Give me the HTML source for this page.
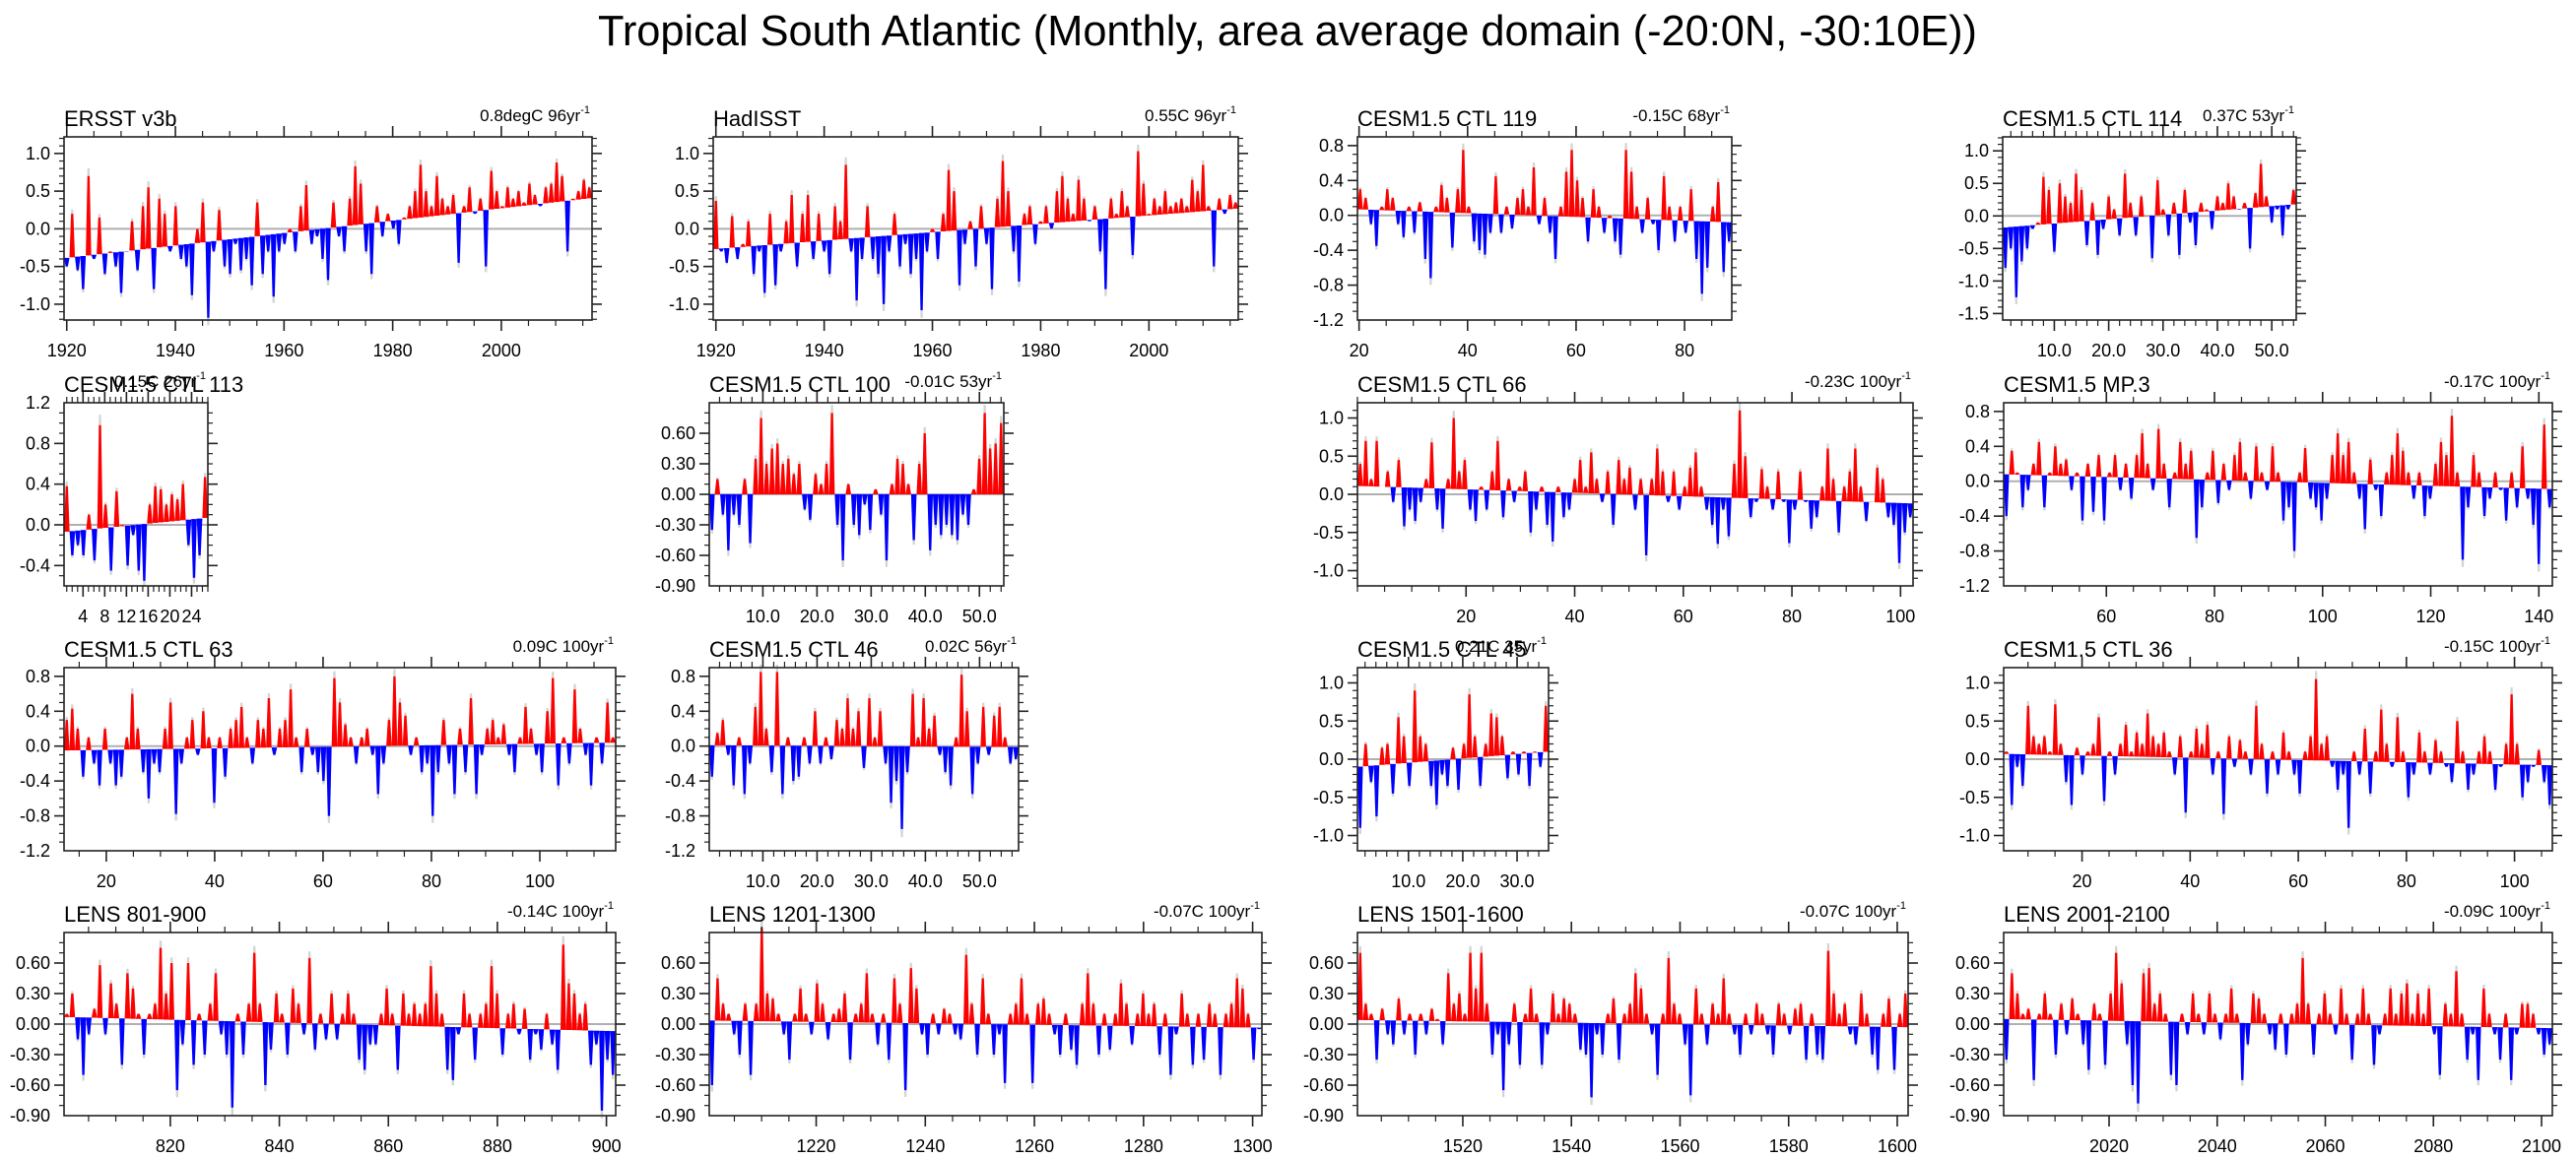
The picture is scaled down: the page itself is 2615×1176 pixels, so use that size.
<!DOCTYPE html>
<html><head><meta charset="utf-8">
<style>
html,body{margin:0;padding:0;background:#fff;}
svg{display:block;font-family:"Liberation Sans",Arial,sans-serif;}
</style></head>
<body>
<svg id="fig" width="2615" height="1176" viewBox="0 0 2615 1176" xmlns="http://www.w3.org/2000/svg">
<text x="1307" y="46" text-anchor="middle" font-size="44" textLength="1400" lengthAdjust="spacingAndGlyphs">Tropical South Atlantic (Monthly, area average domain (-20:0N, -30:10E))</text>
</svg>
<script>
// ---- data (approximate annual anomalies) ----
const ersstVals=[-0.5,0.2,-0.55,-0.8,0.7,-0.4,0.15,-0.6,-0.3,-0.5,-0.85,-0.3,0.1,-0.55,0.3,0.55,-0.8,0.4,0.2,-0.3,0.3,-0.4,-0.5,-0.88,0.0,0.35,-1.18,-0.3,0.25,-0.5,-0.6,-0.2,-0.55,-0.4,-0.75,0.35,-0.6,-0.3,-0.9,-0.3,-0.2,0.0,-0.3,0.3,0.58,-0.2,-0.1,-0.4,-0.68,0.35,-0.1,-0.3,0.4,0.83,0.6,-0.3,-0.6,0.3,-0.1,0.2,0.0,-0.2,0.15,0.3,0.5,0.85,0.5,0.3,0.7,0.4,0.3,0.45,-0.45,0.3,0.55,0.2,0.4,-0.5,0.77,0.5,0.3,0.55,0.4,0.5,0.35,0.6,0.45,0.3,0.55,0.6,0.88,0.7,-0.3,0.4,0.5,0.65,0.55];
const hadVals=[0.37,-0.3,-0.45,0.17,-0.4,-0.2,0.1,-0.6,-0.3,-0.85,0.2,-0.75,-0.3,0.1,0.45,-0.5,0.2,0.45,-0.4,0.2,-0.3,-0.6,0.3,0.1,0.85,-0.3,-0.95,-0.4,0.3,-0.4,-0.6,-1.0,-0.3,0.2,-0.5,-0.2,-0.6,-0.4,-1.08,-0.3,0.0,-0.4,0.2,0.78,0.5,-0.75,-0.2,0.1,-0.5,0.3,-0.2,-0.8,0.4,0.9,0.5,-0.3,-0.7,0.2,0.3,-0.2,0.1,0.3,0.0,0.5,0.7,0.4,0.2,0.65,0.4,0.1,0.3,-0.3,-0.8,0.4,0.2,0.5,0.3,-0.35,1.03,0.6,0.2,0.4,0.3,0.5,0.3,0.35,0.4,0.3,0.65,0.5,0.85,0.3,-0.5,0.4,0.2,0.45,0.35];
const ctl119Vals=[0.3,0.2,-0.1,-0.35,0.1,0.3,0.2,-0.1,-0.25,0.1,-0.2,0.15,-0.5,-0.72,0.1,0.35,0.2,-0.37,0.3,0.75,0.1,-0.3,-0.4,-0.45,-0.2,0.45,-0.2,0.1,-0.15,0.2,0.3,0.1,0.55,-0.1,0.2,-0.2,-0.5,0.1,0.5,0.75,0.4,0.2,-0.3,0.3,0.1,-0.2,0.0,-0.3,-0.45,0.75,0.5,0.1,-0.2,0.2,-0.1,-0.4,0.45,0.1,-0.3,0.1,-0.2,0.3,-0.5,-0.9,-0.6,0.1,0.38,-0.65,-0.3];
const ctl114Vals=[-0.8,-0.5,-1.25,-0.7,-0.5,-0.2,-0.1,0.6,0.4,-0.55,0.5,0.3,0.2,0.65,0.4,-0.45,0.2,-0.6,-0.2,0.3,0.1,-0.3,0.65,0.2,-0.3,0.3,0.0,-0.65,0.55,0.1,-0.3,0.2,-0.6,0.4,-0.1,-0.45,0.2,0.1,-0.2,0.3,0.2,0.5,0.3,0.1,0.2,-0.5,0.35,0.8,0.3,-0.1,0.1,-0.3,0.1,0.4];
const ctl113Vals=[0.38,-0.3,-0.2,-0.3,0.1,-0.35,0.98,0.2,-0.45,0.33,0.0,-0.4,-0.1,-0.45,-0.55,0.2,0.38,0.35,0.2,0.3,0.25,0.4,-0.2,-0.52,-0.3,0.47];
const ctl100Vals=[-0.35,0.15,-0.2,-0.55,-0.2,-0.3,0.15,-0.48,0.35,0.75,0.3,0.45,0.5,0.3,0.35,0.2,0.3,-0.15,-0.25,0.2,0.1,0.3,0.8,-0.3,-0.65,0.1,-0.3,-0.4,-0.1,-0.35,0.05,-0.2,-0.65,0.1,0.35,0.3,0.1,-0.45,0.3,0.6,-0.55,-0.3,-0.4,-0.3,-0.4,-0.45,-0.2,-0.3,0.05,0.35,0.8,0.45,0.5,0.7];
const ctl66Vals=[0.4,0.7,0.2,0.7,0.1,0.3,-0.1,0.45,-0.42,-0.2,-0.35,-0.1,0.2,0.68,-0.2,-0.45,0.2,1.0,0.3,0.45,-0.2,-0.35,0.1,-0.2,0.3,0.7,-0.3,0.2,-0.1,0.1,0.3,-0.5,-0.2,0.1,-0.4,-0.62,0.1,-0.3,-0.2,0.2,0.45,0.1,0.55,0.2,-0.1,0.3,-0.4,0.45,0.2,0.35,-0.2,0.2,-0.8,0.2,0.6,0.3,-0.1,0.3,-0.2,0.1,0.35,0.55,0.1,-0.2,-0.4,-0.65,-0.2,-0.55,0.4,1.1,0.5,-0.3,-0.1,0.33,0.1,-0.2,0.3,-0.1,-0.64,-0.2,0.3,-0.1,-0.45,-0.3,0.1,0.6,0.2,-0.5,0.1,0.3,0.6,0.1,-0.35,-0.1,0.35,0.2,-0.3,-0.4,-0.9,-0.5,-0.3];
const mp3Vals=[-0.4,0.35,0.1,-0.3,-0.1,0.2,0.45,-0.3,0.1,0.4,0.2,0.25,-0.1,0.1,-0.45,0.2,-0.35,0.3,-0.45,0.1,0.3,-0.1,0.2,-0.2,0.3,0.55,0.2,-0.1,0.6,0.2,-0.3,0.1,0.45,0.2,0.35,-0.65,-0.3,0.1,0.35,-0.25,0.2,-0.1,0.3,0.45,0.1,-0.2,0.4,0.1,-0.1,0.4,0.1,-0.45,-0.3,-0.8,0.1,0.38,-0.2,-0.3,-0.45,-0.2,0.3,0.55,0.3,0.45,0.1,-0.2,-0.55,0.25,-0.1,-0.4,0.1,0.3,0.55,0.35,0.1,-0.2,0.1,-0.4,-0.2,0.2,0.45,0.3,0.75,0.1,-0.9,-0.3,0.3,0.1,-0.4,-0.2,0.1,-0.1,-0.45,0.1,-0.3,0.4,-0.2,-0.5,-0.95,0.65,-0.3];
const ctl63Vals=[0.3,0.43,0.2,-0.35,0.1,-0.2,-0.45,0.2,-0.2,-0.45,-0.35,0.1,0.6,0.2,-0.3,-0.6,-0.2,-0.3,0.2,0.5,-0.78,-0.2,0.1,0.3,-0.1,0.4,0.1,-0.65,0.1,-0.35,0.2,0.3,0.45,0.1,-0.2,0.3,0.2,0.55,-0.1,0.2,0.3,0.65,0.1,-0.3,0.2,-0.1,-0.3,-0.4,-0.8,0.78,0.5,0.25,0.1,-0.2,0.1,0.2,-0.1,-0.55,-0.2,0.3,0.8,0.5,0.35,-0.1,0.1,-0.3,-0.2,-0.8,-0.3,0.3,-0.2,-0.55,0.2,-0.3,0.55,-0.55,-0.1,0.2,0.3,0.1,0.25,-0.1,-0.3,0.1,0.45,0.2,-0.1,-0.3,0.4,0.78,-0.45,0.1,-0.2,0.65,0.2,-0.1,-0.45,0.1,-0.2,0.5,0.1];
const ctl46Vals=[-0.35,0.15,0.3,-0.1,-0.45,0.1,-0.55,-0.2,0.45,0.85,0.2,-0.3,0.85,-0.55,0.1,-0.4,-0.35,0.1,-0.2,0.4,-0.2,0.1,-0.15,0.3,0.2,0.55,0.2,0.4,-0.25,0.55,0.1,0.4,-0.2,-0.65,-0.4,-0.95,-0.3,0.6,0.1,0.55,0.2,0.35,-0.1,-0.3,-0.45,0.1,0.82,0.4,-0.55,-0.2,0.45,-0.1,0.35,0.45,0.1,-0.2,-0.15];
const ctl45Vals=[-0.9,0.2,-0.3,-0.75,0.15,0.2,-0.45,0.55,0.3,-0.35,0.9,0.3,0.2,-0.35,-0.6,-0.2,-0.35,0.15,-0.4,0.2,0.85,0.3,-0.35,0.2,0.6,0.55,0.3,-0.25,0.1,-0.2,0.1,-0.35,0.1,-0.1,0.7];
const ctl36Vals=[0.1,-0.6,-0.1,-0.35,0.7,0.3,0.2,0.3,0.1,0.72,0.2,-0.3,-0.6,0.15,-0.2,0.1,0.2,0.55,-0.55,0.1,-0.2,0.2,0.45,0.1,0.35,0.2,0.6,0.3,0.2,0.35,0.1,-0.2,0.3,-0.7,0.1,0.4,0.2,0.45,-0.2,0.1,-0.72,0.3,-0.1,0.25,0.1,-0.2,0.7,0.2,-0.45,0.1,-0.2,0.35,0.1,-0.2,-0.45,0.1,0.3,1.05,0.2,0.3,-0.1,-0.4,-0.2,-0.9,0.1,-0.2,0.4,-0.45,0.1,0.65,0.2,-0.1,0.55,0.1,-0.5,-0.2,0.35,0.1,-0.2,0.25,0.1,-0.1,-0.3,0.5,0.1,-0.4,-0.2,0.1,0.3,0.1,-0.4,-0.1,0.2,0.85,0.2,-0.5,-0.3,-0.1,0.12,-0.3,-0.6];
const lens801Vals=[0.1,0.3,-0.15,-0.5,-0.1,0.15,0.58,-0.1,0.4,0.2,-0.4,0.5,0.35,0.1,-0.3,0.1,0.2,0.75,0.3,0.6,-0.65,-0.2,0.6,-0.4,0.1,-0.3,0.2,0.5,-0.1,-0.3,-0.82,0.1,-0.3,0.2,0.7,0.2,-0.6,-0.25,0.3,0.1,-0.3,0.35,0.2,-0.1,0.65,-0.25,0.1,-0.15,0.3,-0.15,0.1,0.3,0.1,-0.35,-0.45,-0.2,-0.2,0.1,0.35,0.1,-0.45,0.3,0.1,0.2,0.1,0.2,0.57,0.3,0.1,-0.45,-0.55,-0.1,0.3,0.1,-0.35,0.1,0.2,0.57,0.3,-0.3,0.1,0.2,-0.1,0.15,-0.35,-0.1,-0.25,0.1,-0.2,-0.45,0.78,0.4,0.3,0.1,0.2,-0.4,-0.2,-0.85,-0.35,-0.5];
const lens1201Vals=[-0.6,0.45,0.2,0.1,-0.1,-0.3,0.2,-0.5,0.2,0.95,0.3,0.25,0.1,-0.1,-0.35,0.1,0.35,0.1,-0.1,0.4,0.2,-0.15,0.1,0.15,0.3,-0.35,0.1,0.2,0.5,0.1,-0.2,0.1,-0.35,0.45,0.2,-0.65,0.55,0.35,-0.1,-0.3,0.1,-0.1,0.15,0.1,-0.1,-0.15,0.68,0.2,-0.3,0.45,0.1,-0.3,-0.1,-0.58,0.1,0.2,0.45,0.1,-0.58,0.2,0.25,0.1,-0.1,-0.3,0.1,-0.25,-0.4,0.2,0.5,0.2,-0.3,0.1,-0.25,0.1,0.4,0.2,-0.2,0.1,0.3,0.1,0.2,-0.3,0.1,-0.5,-0.1,0.3,0.1,-0.4,0.1,-0.35,0.2,0.1,-0.5,0.1,0.2,0.45,0.35,0.1,-0.35,-0.05];
const lens1501Vals=[0.7,0.2,0.1,-0.35,0.15,-0.1,-0.2,0.25,-0.1,0.1,-0.3,0.1,-0.1,0.15,0.05,-0.2,0.5,0.2,0.3,0.1,0.7,0.35,0.7,0.2,-0.3,-0.1,-0.65,-0.2,0.2,-0.4,0.1,0.35,0.1,-0.4,-0.1,0.3,0.1,0.25,0.2,0.1,-0.25,-0.3,-0.72,-0.1,-0.3,0.1,0.25,-0.35,0.1,0.2,0.5,0.35,0.1,-0.1,-0.5,0.1,0.65,0.2,0.1,-0.2,-0.7,0.35,0.1,-0.2,0.2,0.1,0.45,0.1,-0.1,-0.3,0.1,-0.1,0.2,0.1,-0.1,-0.3,0.2,0.1,-0.1,0.15,0.2,-0.35,0.1,-0.3,-0.35,0.72,0.3,0.1,0.2,-0.1,-0.2,0.3,0.1,-0.3,-0.45,0.1,0.25,-0.45,0.1,0.3];
const lens2001Vals=[-0.35,0.5,0.3,0.1,0.15,-0.55,0.1,0.3,0.1,-0.3,0.2,-0.1,0.25,0.1,-0.2,-0.45,0.2,0.1,-0.4,0.3,0.7,0.4,-0.2,-0.6,-0.78,0.5,0.55,0.2,0.3,0.1,-0.5,-0.6,0.1,-0.1,0.3,0.1,-0.1,0.3,0.1,-0.15,0.1,0.35,0.1,-0.55,-0.2,0.3,0.25,0.1,-0.1,-0.25,0.1,-0.3,0.1,0.2,0.65,0.2,-0.3,0.1,0.3,0.1,-0.1,0.35,0.1,-0.35,0.1,0.35,0.1,-0.4,-0.1,0.1,0.35,0.1,0.3,0.4,0.1,0.3,0.1,0.35,-0.1,-0.5,0.2,0.1,0.52,0.1,-0.35,-0.1,-0.55,0.35,0.1,-0.1,-0.35,0.1,-0.55,-0.1,0.2,0.2,0.1,-0.1,-0.3,-0.2];
// trend line start/end values (degC)
const trendStarts=[-0.39,-0.27,0.07,-0.18,-0.07,0.0,0.11,0.08,-0.05,0.01,-0.10,0.07,0.07,0.035,0.04,0.05];
const trendEnds=[0.41,0.27,-0.08,0.18,0.07,0.0,-0.12,-0.09,0.04,-0.01,0.10,-0.08,-0.07,-0.035,-0.03,-0.04];
const panelTitles=['ERSST v3b','HadISST','CESM1.5 CTL 119','CESM1.5 CTL 114','CESM1.5 CTL 113','CESM1.5 CTL 100','CESM1.5 CTL 66','CESM1.5 MP.3','CESM1.5 CTL 63','CESM1.5 CTL 46','CESM1.5 CTL 45','CESM1.5 CTL 36','LENS 801-900','LENS 1201-1300','LENS 1501-1600','LENS 2001-2100'];
const trendLabels=['0.8degC 96yr','0.55C 96yr','-0.15C 68yr','0.37C 53yr','0.15C 26yr','-0.01C 53yr','-0.23C 100yr','-0.17C 100yr','0.09C 100yr','0.02C 56yr','0.21C 35yr','-0.15C 100yr','-0.14C 100yr','-0.07C 100yr','-0.07C 100yr','-0.09C 100yr'];
const seriesList=[ersstVals,hadVals,ctl119Vals,ctl114Vals,ctl113Vals,ctl100Vals,ctl66Vals,mp3Vals,ctl63Vals,ctl46Vals,ctl45Vals,ctl36Vals,lens801Vals,lens1201Vals,lens1501Vals,lens2001Vals];
const yTickLabels1=[1.0,0.5,0.0,-0.5,-1.0];
const yTickLabels2=[0.8,0.4,0.0,-0.4,-0.8,-1.2];
const yTickLabels3=[1.0,0.5,0.0,-0.5,-1.0,-1.5];
const yTickLabels4=[1.2,0.8,0.4,0.0,-0.4];
const yTickLabels5=[0.6,0.3,0.0,-0.3,-0.6,-0.9];
const xTicksA=[1920,1940,1960,1980,2000];
const xTicksB=[20,40,60,80];
const xTicksC=[10,20,30,40,50];
const xTicksD=[4,8,12,16,20,24];
const xTicksE=[20,40,60,80,100];
const xTicksF=[60,80,100,120,140];
const xTicksG=[10,20,30];
const xTicksH=[820,840,860,880,900];
const xTicksI=[1220,1240,1260,1280,1300];
const xTicksJ=[1520,1540,1560,1580,1600];
const xTicksK=[2020,2040,2060,2080,2100];

// ---- layout (geometry only) ----
const R=[139,409,678,947], H=186;
const layout=[
 {x:65,y:R[0],w:536,ymin:-1.21,ymax:1.22,yt:yTickLabels1,yd:1,xmin:1919.5,xmax:2016.7,xt:xTicksA,xd:0,xm:5},
 {x:724,y:R[0],w:533,ymin:-1.21,ymax:1.22,yt:yTickLabels1,yd:1,xmin:1919.5,xmax:2016.5,xt:xTicksA,xd:0,xm:5},
 {x:1378,y:R[0],w:380,ymin:-1.2,ymax:0.9,yt:yTickLabels2,yd:1,xmin:19.7,xmax:88.7,xt:xTicksB,xd:0,xm:5},
 {x:2033,y:R[0],w:298,ymin:-1.6,ymax:1.215,yt:yTickLabels3,yd:1,xmin:0.5,xmax:54.5,xt:xTicksC,xd:1,xm:2},
 {x:65,y:R[1],w:146,ymin:-0.6,ymax:1.2,yt:yTickLabels4,yd:1,xmin:0.5,xmax:27,xt:xTicksD,xd:0,xm:1},
 {x:720,y:R[1],w:299,ymin:-0.9,ymax:0.9,yt:yTickLabels5,yd:2,xmin:0.1,xmax:54.5,xt:xTicksC,xd:1,xm:2},
 {x:1378,y:R[1],w:564,ymin:-1.2,ymax:1.2,yt:yTickLabels1,yd:1,xmin:0,xmax:102.3,xt:xTicksE,xd:0,xm:5},
 {x:2034,y:R[1],w:557,ymin:-1.2,ymax:0.9,yt:yTickLabels2,yd:1,xmin:41,xmax:142.5,xt:xTicksF,xd:0,xm:5},
 {x:65,y:R[2],w:560,ymin:-1.2,ymax:0.9,yt:yTickLabels2,yd:1,xmin:12.2,xmax:114,xt:xTicksE,xd:0,xm:5},
 {x:720,y:R[2],w:314,ymin:-1.2,ymax:0.9,yt:yTickLabels2,yd:1,xmin:0.1,xmax:57.2,xt:xTicksC,xd:1,xm:2},
 {x:1378,y:R[2],w:194,ymin:-1.2,ymax:1.2,yt:yTickLabels1,yd:1,xmin:0.6,xmax:35.8,xt:xTicksG,xd:1,xm:2},
 {x:2034,y:R[2],w:557,ymin:-1.2,ymax:1.2,yt:yTickLabels1,yd:1,xmin:5.5,xmax:107,xt:xTicksE,xd:0,xm:5},
 {x:65,y:R[3],w:560,ymin:-0.9,ymax:0.9,yt:yTickLabels5,yd:2,xmin:800.5,xmax:901.7,xt:xTicksH,xd:0,xm:5},
 {x:720,y:R[3],w:561,ymin:-0.9,ymax:0.9,yt:yTickLabels5,yd:2,xmin:1200.4,xmax:1301.7,xt:xTicksI,xd:0,xm:5},
 {x:1378,y:R[3],w:559,ymin:-0.9,ymax:0.9,yt:yTickLabels5,yd:2,xmin:1500.6,xmax:1602,xt:xTicksJ,xd:0,xm:5},
 {x:2034,y:R[3],w:557,ymin:-0.9,ymax:0.9,yt:yTickLabels5,yd:2,xmin:2000.5,xmax:2102,xt:xTicksK,xd:0,xm:5}
];

const NS='http://www.w3.org/2000/svg';
const fig=document.getElementById('fig');
function mk(tag,attrs,parent){const e=document.createElementNS(NS,tag);for(const k in attrs)e.setAttribute(k,attrs[k]);(parent||fig).appendChild(e);return e;}

seriesList.forEach(function(vals,p){
  const L=layout[p];
  const g=mk('g',{});
  
  
  const x0=L.x,y0=L.y,w=L.w,h=H;
  const sy=v=>y0+(L.ymax-v)/(L.ymax-L.ymin)*h;
  const sx=t=>x0+(t-L.xmin)/(L.xmax-L.xmin)*w;
  const n=vals.length, sw=w/n;
  const b0=trendStarts[p], b1=trendEnds[p];
  const zl=mk('line',{x1:x0,x2:x0+w,y1:sy(0),y2:sy(0),stroke:'#b0b0b0','stroke-width':2},g);
  
  
  const grey=mk('g',{fill:'#d4d4d4'},g);
  
  
  const bars=mk('g',{},g);
  
  
  vals.forEach(function(v,i){
    const base=b0+(b1-b0)*(i+0.5)/n;
    const xc=x0+(i+0.5)*sw, yb=sy(base), yv=sy(v), yg=sy(base+(v-base)*1.1);
    const xl=x0+i*sw, xr=xl+sw, hw=sw*0.2;
    const gp=mk('polygon',{points:xl+','+yb+' '+(xc-hw)+','+yg+' '+(xc+hw)+','+yg+' '+xr+','+yb},grey);
    
    
    const bp=mk('polygon',{points:xl+','+yb+' '+(xc-hw)+','+yv+' '+(xc+hw)+','+yv+' '+xr+','+yb,fill:(v>base?'#ff0000':'#0000ff')},bars);
    
    
  });
  const fr=mk('rect',{x:x0,y:y0,width:w,height:h,fill:'none',stroke:'#222','stroke-width':1.6},g);
  
  
  const ya=mk('g',{stroke:'#222'},g);
  
  
  for(let k=Math.ceil(L.ymin*10+1e-6);k<=Math.floor(L.ymax*10-1e-6);k++){
    const v=k/10, yy=sy(v);
    const maj=L.yt.some(t=>Math.abs(t-v)<1e-6);
    const len=maj?10:5;
    mk('line',{x1:x0-len,x2:x0,y1:yy,y2:yy,'stroke-width':maj?1.6:1.2},ya);
    mk('line',{x1:x0+w,x2:x0+w+len,y1:yy,y2:yy,'stroke-width':maj?1.6:1.2},ya);
  }
  L.yt.forEach(function(t){
    const tx=mk('text',{x:x0-14,y:sy(t)+6,'text-anchor':'end','font-size':18,fill:'#000',stroke:'none'},g);
    
    
    tx.textContent=t.toFixed(L.yd);
  });
  const xa=mk('g',{stroke:'#222'},g);
  
  
  for(let t=Math.ceil(L.xmin/L.xm)*L.xm;t<=L.xmax;t+=L.xm){
    const xx=sx(t);
    const maj=L.xt.indexOf(t)>=0;
    const len=maj?11:6;
    mk('line',{x1:xx,x2:xx,y1:y0+h,y2:y0+h+len,'stroke-width':maj?1.6:1.2},xa);
    mk('line',{x1:xx,x2:xx,y1:y0-len,y2:y0,'stroke-width':maj?1.6:1.2},xa);
  }
  L.xt.forEach(function(t){
    const tx=mk('text',{x:sx(t),y:y0+h+37,'text-anchor':'middle','font-size':18,fill:'#000'},g);
    
    
    tx.textContent=t.toFixed(L.xd);
  });
  const tt=mk('text',{x:x0,y:y0-11,'font-size':22,fill:'#000'},g);
  
  
  tt.textContent=panelTitles[p];
  const tr=mk('text',{x:x0+w-2,y:y0-16,'text-anchor':'end','font-size':17,fill:'#000'},g);
  
  
  tr.textContent=trendLabels[p];
  const sup=mk('tspan',{dy:-8,'font-size':11},tr);
  
  
  sup.textContent='-1';
});
</script>
</body></html>
